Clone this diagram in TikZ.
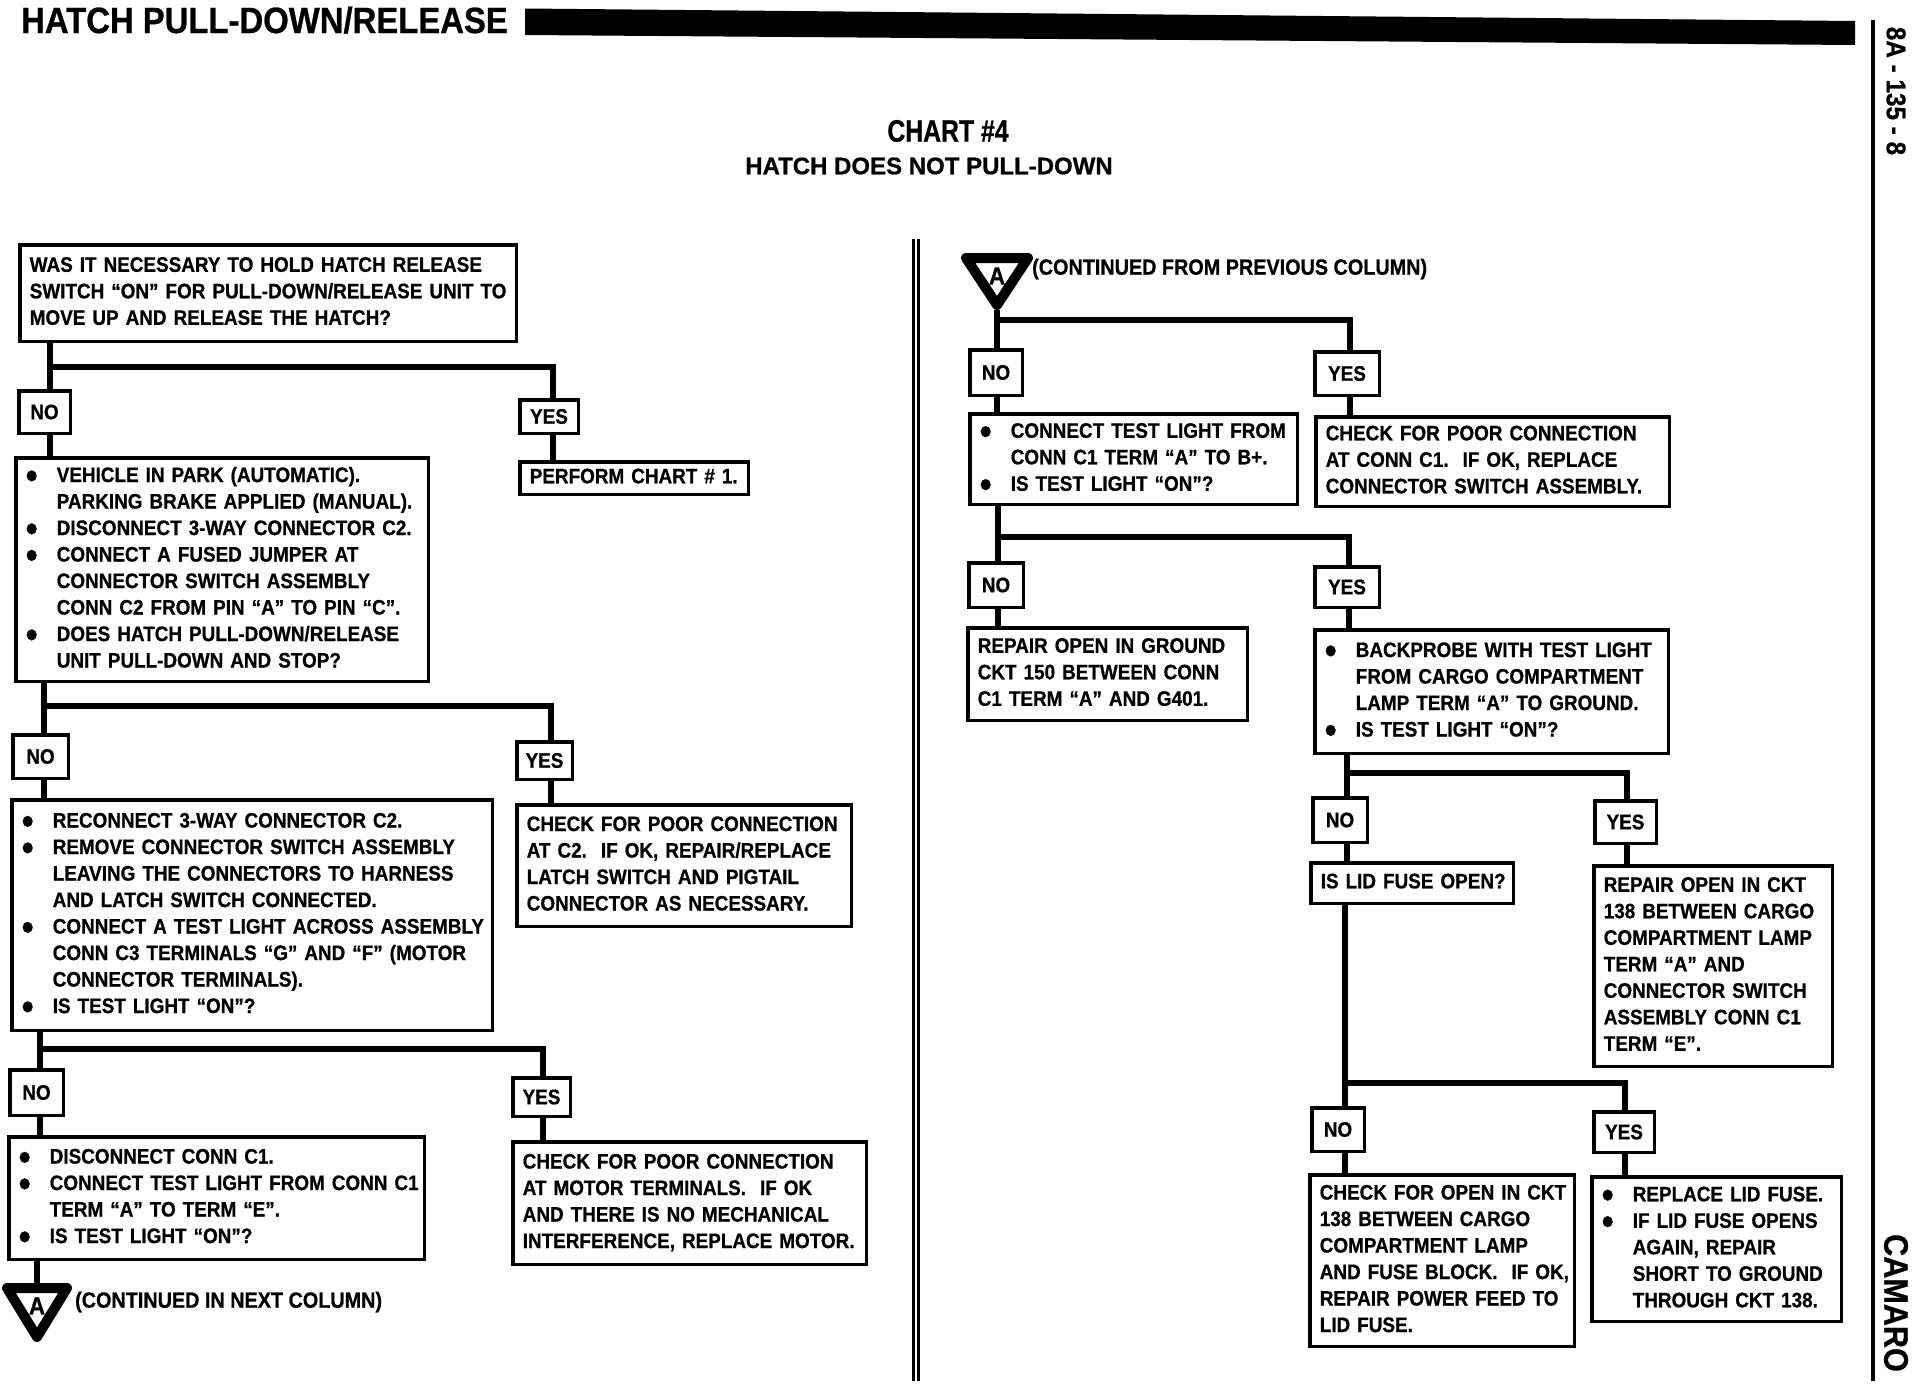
\documentclass[tikz,border=0pt]{standalone}
\usepackage{fontspec}
\usepackage{graphicx}
\newfontfamily\bxfam{Liberation Sans Bold}[FakeStretch=0.9, FakeBold=0.7]
\newfontfamily\cfam{Liberation Sans Bold}[FakeStretch=0.8, FakeBold=0.7]
\newfontfamily\pfam{Liberation Sans Bold}[FakeBold=0.7]
\newcommand\bxfont{\bxfam\fontsize{21}{26.5}\selectfont}
\newcommand\bult{\makebox[31pt][l]{\raisebox{-6.3pt}[0pt][0pt]{\scalebox{1.8}{\textbullet}}}}
\newcommand\indt{\hspace*{31pt}}
\newcommand\lns[1]{\begin{tabular}{@{}l@{}}#1\end{tabular}}
\tikzset{
 bx/.style={draw, line width=3.5pt, inner xsep=10pt, inner ysep=0pt, align=left, anchor=north west, font=\bxfont},
 lab/.style={draw, line width=3.5pt, inner sep=0pt, anchor=north west, font=\bxfont},
 conn/.style={line width=6.5pt},
 tri/.style={line width=10pt, line join=round, fill=white},
}
\begin{document}
\begin{tikzpicture}[x=1pt,y=-1pt]
\useasboundingbox (0,0) rectangle (1916,1392);
\fill[white] (0,0) rectangle (1916,1392);

% header
\node[anchor=base west, inner sep=0pt, font=\bxfam\fontsize{36.5}{36.5}\selectfont] (hdr) at (21,33) {HATCH PULL-DOWN/RELEASE};
\fill (525,8.5) -- (1855,21) -- (1855,45) -- (525,35) -- cycle;
\draw[line width=3.5pt] (1873,20) -- (1873,1381);
\node[rotate=-90, inner sep=0pt, font=\bxfam\fontsize{27}{27}\selectfont] (pg) at (1896,91) {8A - 135 - 8};
\node[rotate=-90, inner sep=0pt, font=\bxfam\fontsize{34}{34}\selectfont] (cam) at (1896,1303) {CAMARO};

\node[font=\cfam\fontsize{31}{31}\selectfont] (title) at (948,131) {CHART \#4};
\node[font=\pfam\fontsize{24}{24}\selectfont] (sub) at (929,166) {HATCH DOES NOT PULL-DOWN};

% divider
\draw[line width=3.5pt] (913.5,239) -- (913.5,1381);
\draw[line width=3.5pt] (918.5,239) -- (918.5,1381);

% ===== left column =====
\node[bx, text width=476.5pt, minimum height=96.5pt] (b1) at (18,243) {\lns{WAS IT NECESSARY TO HOLD HATCH RELEASE\\SWITCH “ON” FOR PULL-DOWN/RELEASE UNIT TO\\MOVE UP AND RELEASE THE HATCH?}};
\node[lab, minimum width=51.5pt, minimum height=42.5pt] (no1) at (17,389) {NO};
\node[lab, minimum width=58.5pt, minimum height=33.5pt] (yes1) at (518,398) {YES};
\node[bx, text width=208.5pt, minimum height=32.5pt] (perf) at (518,460) {\lns{PERFORM CHART \# 1.}};
\node[bx, text width=392.5pt, minimum height=223.5pt] (b2) at (14,456) {\lns{\bult VEHICLE IN PARK (AUTOMATIC).\\\indt PARKING BRAKE APPLIED (MANUAL).\\\bult DISCONNECT 3-WAY CONNECTOR C2.\\\bult CONNECT A FUSED JUMPER AT\\\indt CONNECTOR SWITCH ASSEMBLY\\\indt CONN C2 FROM PIN “A” TO PIN “C”.\\\bult DOES HATCH PULL-DOWN/RELEASE\\\indt UNIT PULL-DOWN AND STOP?}};

\node[lab, minimum width=55.5pt, minimum height=43.5pt] (no2) at (11,733) {NO};
\node[lab, minimum width=55.5pt, minimum height=37.5pt] (yes2) at (515,740) {YES};
\node[bx, text width=460.5pt, minimum height=230.5pt] (b3) at (10,798) {\lns{\bult RECONNECT 3-WAY CONNECTOR C2.\\\bult REMOVE CONNECTOR SWITCH ASSEMBLY\\\indt LEAVING THE CONNECTORS TO HARNESS\\\indt AND LATCH SWITCH CONNECTED.\\\bult CONNECT A TEST LIGHT ACROSS ASSEMBLY\\\indt CONN C3 TERMINALS “G” AND “F” (MOTOR\\\indt CONNECTOR TERMINALS).\\\bult IS TEST LIGHT “ON”?}};
\node[bx, text width=314.5pt, minimum height=121.5pt] (y2t) at (515,803) {\lns{CHECK FOR POOR CONNECTION\\AT C2.\ \ IF OK, REPAIR/REPLACE\\LATCH SWITCH AND PIGTAIL\\CONNECTOR AS NECESSARY.}};

\node[lab, minimum width=53.5pt, minimum height=45.5pt] (no3) at (8,1068) {NO};
\node[lab, minimum width=57.5pt, minimum height=38.5pt] (yes3) at (511,1076) {YES};
\node[bx, text width=395.5pt, minimum height=122.5pt] (b4) at (7,1135) {\lns{\bult DISCONNECT CONN C1.\\\bult CONNECT TEST LIGHT FROM CONN C1\\\indt TERM “A” TO TERM “E”.\\\bult IS TEST LIGHT “ON”?}};
\node[bx, text width=333.5pt, minimum height=122.5pt] (y3t) at (511,1140) {\lns{CHECK FOR POOR CONNECTION\\AT MOTOR TERMINALS.\ \ IF OK\\AND THERE IS NO MECHANICAL\\INTERFERENCE, REPLACE MOTOR.}};

% off-page connector (left)
\draw[tri] (7,1288) -- (67,1288) -- (37,1337) -- cycle;
\coordinate (triL) at (37,1283);
\node[font=\bxfam\fontsize{25}{25}\selectfont, inner sep=0pt] (aL) at (37,1306) {A};
\node[anchor=west, inner sep=0pt, font=\bxfam\fontsize{22}{22}\selectfont] (contL) at (75,1302) {(CONTINUED IN NEXT COLUMN)};

% left connectors
\coordinate (t1) at (50,367);  \coordinate (r1) at (553,367);
\draw[conn] (b1.south -| t1) -- (no1.north -| t1);
\draw[conn] (t1) -- (r1) -- (yes1.north -| r1);
\draw[conn] (no1.south -| t1) -- (b2.north -| t1);
\draw[conn] (yes1.south -| r1) -- (perf.north -| r1);

\coordinate (t2) at (44,706);  \coordinate (r2) at (551,706);
\draw[conn] (b2.south -| t2) -- (no2.north -| t2);
\draw[conn] (t2) -- (r2) -- (yes2.north -| r2);
\draw[conn] (no2.south -| t2) -- (b3.north -| t2);
\draw[conn] (yes2.south -| r2) -- (y2t.north -| r2);

\coordinate (t3) at (40,1049);  \coordinate (r3) at (543,1049);
\draw[conn] (b3.south -| t3) -- (no3.north -| t3);
\draw[conn] (t3) -- (r3) -- (yes3.north -| r3);
\draw[conn] (no3.south -| t3) -- (b4.north -| t3);
\draw[conn] (yes3.south -| r3) -- (y3t.north -| r3);
\draw[conn] (b4.south -| triL) -- (triL);

% ===== right column =====
\draw[tri] (966,258) -- (1028,258) -- (997,305) -- cycle;
\coordinate (triR) at (997,310);
\node[font=\bxfam\fontsize{25}{25}\selectfont, inner sep=0pt] (aR) at (997,276) {A};
\node[anchor=west, inner sep=0pt, font=\bxfam\fontsize{22}{22}\selectfont] (contR) at (1032,269) {(CONTINUED FROM PREVIOUS COLUMN)};

\node[lab, minimum width=52.5pt, minimum height=45.5pt] (no4) at (968,348) {NO};
\node[lab, minimum width=64.5pt, minimum height=43.5pt] (yes4) at (1313,350) {YES};
\node[bx, text width=307.5pt, minimum height=90.5pt] (b5) at (968,412) {\lns{\bult CONNECT TEST LIGHT FROM\\\indt CONN C1 TERM “A” TO B+.\\\bult IS TEST LIGHT “ON”?}};
\node[bx, text width=333.5pt, minimum height=89.5pt] (y4t) at (1314,415) {\lns{CHECK FOR POOR CONNECTION\\AT CONN C1.\ \ IF OK, REPLACE\\CONNECTOR SWITCH ASSEMBLY.}};

\node[lab, minimum width=54.5pt, minimum height=44.5pt] (no5) at (967,561) {NO};
\node[lab, minimum width=64.5pt, minimum height=40.5pt] (yes5) at (1313,565) {YES};
\node[bx, text width=259.5pt, minimum height=92.5pt] (b6) at (966,626) {\lns{REPAIR OPEN IN GROUND\\CKT 150 BETWEEN CONN\\C1 TERM “A” AND G401.}};
\node[bx, text width=333.5pt, minimum height=123.5pt] (b7) at (1313,628) {\lns{\bult BACKPROBE WITH TEST LIGHT\\\indt FROM CARGO COMPARTMENT\\\indt LAMP TERM “A” TO GROUND.\\\bult IS TEST LIGHT “ON”?}};

\node[lab, minimum width=54.5pt, minimum height=44.5pt] (no6) at (1311,796) {NO};
\node[lab, minimum width=61.5pt, minimum height=42.5pt] (yes6) at (1593,799) {YES};
\node[bx, text width=182.5pt, minimum height=40.5pt] (b8) at (1309,861) {\lns{IS LID FUSE OPEN?}};
\node[bx, text width=218.5pt, minimum height=200.5pt] (b9) at (1592,864) {\lns{REPAIR OPEN IN CKT\\138 BETWEEN CARGO\\COMPARTMENT LAMP\\TERM “A” AND\\CONNECTOR SWITCH\\ASSEMBLY CONN C1\\TERM “E”.}};

\node[lab, minimum width=52.5pt, minimum height=43.5pt] (no7) at (1310,1106) {NO};
\node[lab, minimum width=60.5pt, minimum height=40.5pt] (yes7) at (1592,1110) {YES};
\node[bx, text width=244.5pt, minimum height=171.5pt] (b10) at (1308,1173) {\lns{CHECK FOR OPEN IN CKT\\138 BETWEEN CARGO\\COMPARTMENT LAMP\\AND FUSE BLOCK.\ \ IF OK,\\REPAIR POWER FEED TO\\LID FUSE.}};
\node[bx, text width=229.5pt, minimum height=144.5pt] (b11) at (1590,1175) {\lns{\bult REPLACE LID FUSE.\\\bult IF LID FUSE OPENS\\\indt AGAIN, REPAIR\\\indt SHORT TO GROUND\\\indt THROUGH CKT 138.}};

% right connectors
\coordinate (t4) at (997,320);  \coordinate (r4) at (1350,320);
\draw[conn] (triR) -- (no4.north -| t4);
\draw[conn] (t4) -- (r4) -- (yes4.north -| r4);
\draw[conn] (no4.south -| t4) -- (b5.north -| t4);
\draw[conn] (yes4.south -| r4) -- (y4t.north -| r4);

\coordinate (t5) at (998,537);  \coordinate (r5) at (1349,537);
\draw[conn] (b5.south -| t5) -- (no5.north -| t5);
\draw[conn] (t5) -- (r5) -- (yes5.north -| r5);
\draw[conn] (no5.south -| t5) -- (b6.north -| t5);
\draw[conn] (yes5.south -| r5) -- (b7.north -| r5);

\coordinate (t6) at (1347,773);  \coordinate (r6) at (1627,773);
\draw[conn] (b7.south -| t6) -- (no6.north -| t6);
\draw[conn] (t6) -- (r6) -- (yes6.north -| r6);
\draw[conn] (no6.south -| t6) -- (b8.north -| t6);
\draw[conn] (yes6.south -| r6) -- (b9.north -| r6);

\coordinate (t7) at (1345,1083);  \coordinate (r7) at (1625,1083);
\draw[conn] (b8.south -| t7) -- (no7.north -| t7);
\draw[conn] (t7) -- (r7) -- (yes7.north -| r7);
\draw[conn] (no7.south -| t7) -- (b10.north -| t7);
\draw[conn] (yes7.south -| r7) -- (b11.north -| r7);
\end{tikzpicture}
\end{document}
